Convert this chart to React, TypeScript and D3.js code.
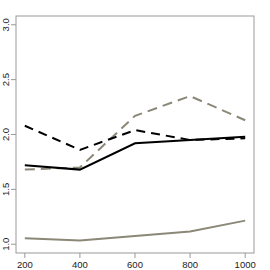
import React from "react";
import * as d3 from "d3";

const xs = [200, 400, 600, 800, 1000];
const blackSolid = [1.72, 1.68, 1.92, 1.95, 1.98];
const blackDashed = [2.08, 1.86, 2.04, 1.95, 1.965];
const greyDashed = [1.68, 1.7, 2.17, 2.35, 2.13];
const greySolid = [1.055, 1.035, 1.075, 1.115, 1.215];
const xTicks = [200, 400, 600, 800, 1000];
const yTicks = [1.0, 1.5, 2.0, 2.5, 3.0];

const series = [
  { values: greySolid, color: "#8b8878", dash: "" },
  { values: greyDashed, color: "#8b8878", dash: "10,6" },
  { values: blackDashed, color: "#000", dash: "9,6" },
  { values: blackSolid, color: "#000", dash: "" },
];

export default function App() {
  const left = 16, right = 254, top = 16, bottom = 253;
  const x = d3.scaleLinear().domain([168, 1032]).range([left, right]);
  const y = d3.scaleLinear().domain([0.92, 3.08]).range([bottom, top]);
  const line = d3
    .line<number>()
    .x((_, i) => x(xs[i]))
    .y((d) => y(d));
  const font = "'Liberation Sans', Arial, sans-serif";
  return (
    <svg
      width={270}
      height={270}
      style={{ position: "absolute", left: 0, top: 0, background: "#fff" }}
    >
      <rect x={left} y={top} width={right - left} height={bottom - top} fill="none" stroke="#999" strokeWidth={1} />
      {series.map((s, i) => (
        <path
          key={i}
          d={line(s.values) || ""}
          fill="none"
          stroke={s.color}
          strokeWidth={2}
          strokeDasharray={s.dash || undefined}
        />
      ))}
      {xTicks.map((t) => (
        <g key={t}>
          <line x1={x(t)} x2={x(t)} y1={bottom} y2={bottom + 5} stroke="#999" />
          <text x={x(t)} y={268} fontSize={9.5} fontFamily={font} textAnchor="middle" fill="#222">
            {t}
          </text>
        </g>
      ))}
      {yTicks.map((t) => (
        <g key={t}>
          <line x1={left - 5} x2={left} y1={y(t)} y2={y(t)} stroke="#999" />
          <text
            transform={`translate(9,${y(t)}) rotate(-90)`}
            fontSize={9.5}
            fontFamily={font}
            textAnchor="middle"
            fill="#222"
          >
            {t.toFixed(1)}
          </text>
        </g>
      ))}
    </svg>
  );
}
